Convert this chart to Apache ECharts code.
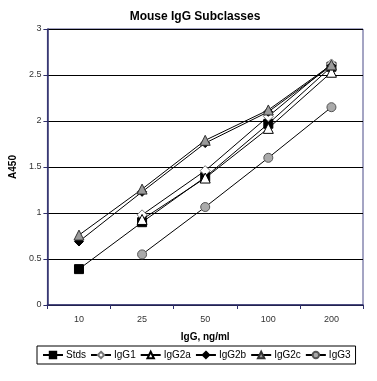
<!DOCTYPE html>
<html><head><meta charset="utf-8">
<script src="https://cdn.jsdelivr.net/npm/echarts@6/dist/echarts.min.js"></script>
<style>html,body{margin:0;padding:0;background:#fff}#c{width:377px;height:381px}</style>
</head><body><div id="c"></div>
<script>
var categories = ['10', '25', '50', '100', '200'];
var stds  = [0.39, 0.90, 1.39, 1.97, 2.59];
var igg1  = [null, 0.98, 1.46, 2.05, 2.62];
var igg2a = [null, 0.93, 1.38, 1.92, 2.53];
var igg2b = [0.69, 1.23, 1.76, 2.10, 2.60];
var igg2c = [0.76, 1.26, 1.79, 2.12, 2.61];
var igg3  = [null, 0.55, 1.065, 1.60, 2.15];

var F = 'Liberation Sans, Arial, sans-serif';
function s(name, data, symbol, fill, border, size) {
  return {
    name: name, type: 'line', data: data, symbol: symbol, symbolSize: size,
    lineStyle: { color: '#000', width: 1 },
    itemStyle: { color: fill, borderColor: border, borderWidth: 1 },
    emphasis: { disabled: true }, animation: false
  };
}
var chart = echarts.init(document.getElementById('c'), null, { renderer: 'canvas' });
chart.setOption({
  animation: false,
  backgroundColor: '#fff',
  title: { text: 'Mouse IgG Subclasses', left: 190, textAlign: 'center', top: 6,
    textStyle: { fontFamily: F, fontSize: 12, fontWeight: 'bold', color: '#000' } },
  grid: { left: 38, right: 14, top: 29, bottom: 76, show: true, borderColor: '#4a4a88', borderWidth: 1, backgroundColor: '#fff' },
  xAxis: {
    type: 'category', data: categories, boundaryGap: true,
    name: 'IgG, ng/ml', nameLocation: 'middle', nameGap: 27,
    nameTextStyle: { fontFamily: F, fontSize: 10, fontWeight: 'bold', color: '#000' },
    axisLine: { lineStyle: { color: '#2e2e6a', width: 1.5 } },
    axisTick: { show: true, length: 4, lineStyle: { color: '#2e2e6a' } },
    axisLabel: { fontFamily: F, fontSize: 9, color: '#333', margin: 10 },
    splitLine: { show: false }
  },
  yAxis: {
    type: 'value', min: 0, max: 3, interval: 0.5,
    name: 'A450', nameLocation: 'middle', nameGap: 22, nameRotate: 90,
    nameTextStyle: { fontFamily: F, fontSize: 10, fontWeight: 'bold', color: '#000' },
    axisLine: { show: true, lineStyle: { color: '#2e2e6a', width: 1.5 } },
    axisTick: { show: true, length: 4, lineStyle: { color: '#2e2e6a' } },
    axisLabel: { fontFamily: F, fontSize: 9, color: '#333', margin: 6 },
    splitLine: { show: true, lineStyle: { color: '#000', width: 1 } }
  },
  legend: {
    left: 37, top: 346, right: 10,
    borderColor: '#000', borderWidth: 1, padding: [4, 5, 4, 5],
    itemWidth: 20, itemHeight: 8, itemGap: 4,
    textStyle: { fontFamily: F, fontSize: 10, color: '#000', padding: [0, 0, 0, -2] },
    data: ['Stds', 'IgG1', 'IgG2a', 'IgG2b', 'IgG2c', 'IgG3']
  },
  series: [
    s('Stds', stds, 'rect', '#000', '#000', 9),
    s('IgG1', igg1, 'diamond', '#fff', '#777', 10),
    s('IgG2a', igg2a, 'triangle', '#fff', '#000', 10),
    s('IgG2b', igg2b, 'diamond', '#000', '#000', 9),
    s('IgG2c', igg2c, 'triangle', '#9a9a9a', '#333', 10),
    s('IgG3', igg3, 'circle', '#aaa', '#555', 9)
  ]
});
</script></body></html>
